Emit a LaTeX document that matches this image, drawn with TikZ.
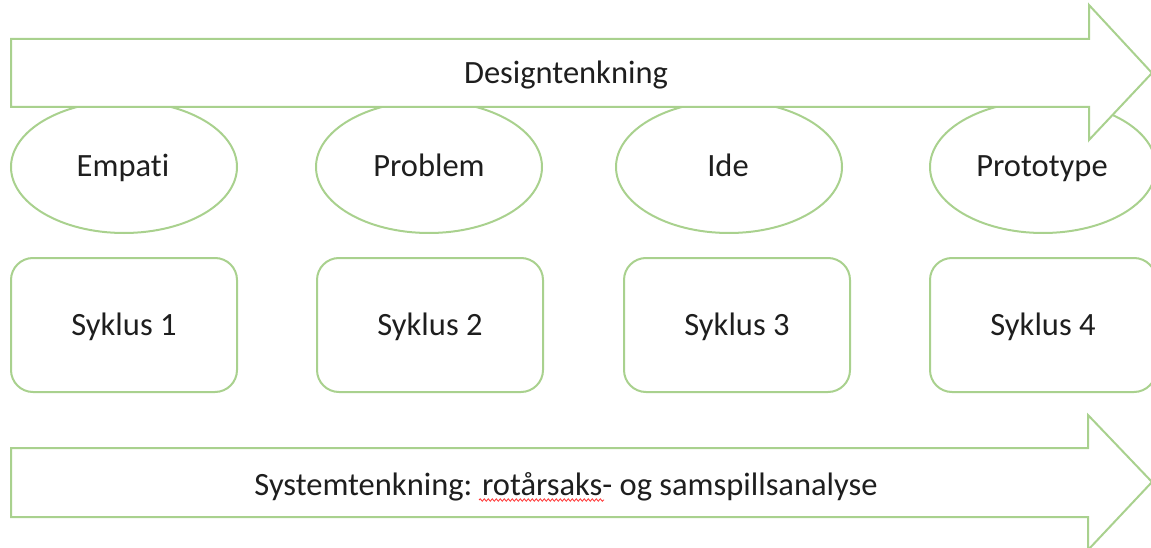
\documentclass[tikz,border=0pt]{standalone}
\usepackage{fontspec}
\setmainfont{Carlito}[RawFeature=-liga]
\usetikzlibrary{decorations.pathmorphing,shapes.geometric}
\definecolor{lgreen}{HTML}{A9D18E}
\definecolor{txt}{HTML}{1E1E1E}
\tikzset{
  shapeline/.style={draw=lgreen, line width=2pt},
  phase/.style={shapeline, ellipse, minimum width=226pt, minimum height=132pt, inner sep=0pt},
  cycle/.style={shapeline, rounded corners=22pt, minimum width=226pt, minimum height=134pt, inner sep=0pt},
  bigarrow/.style={shapeline, fill=white, line join=miter},
  lbl/.style={text=txt, font=\fontsize{32.5}{38}\selectfont, inner sep=0pt, anchor=base}
}
\begin{document}
\begin{tikzpicture}[x=1pt, y=-1pt]
\useasboundingbox (0,0) rectangle (1151,548);

% cycle boxes
\node[cycle] (s1) at (124,325) {};
\node[cycle] (s2) at (430,325) {};
\node[cycle] (s3) at (737,325) {};
\node[cycle] (s4) at (1043,325) {};
\node[lbl] (s1t) at (124,335) {Syklus 1};
\node[lbl] (s2t) at (430,335) {Syklus 2};
\node[lbl] (s3t) at (737,335) {Syklus 3};
\node[lbl] (s4t) at (1043,335) {Syklus 4};

% design-thinking phases
\node[phase] (e1) at (124,167) {};
\node[phase] (e2) at (429,167) {};
\node[phase] (e3) at (729,167) {};
\node[phase] (e4) at (1043,167) {};
\node[lbl] (e1t) at (123,177) {Empati};
\node[lbl] (e2t) at (429,177) {Problem};
\node[lbl] (e3t) at (728,177) {Ide};
\node[lbl] (e4t) at (1042,177) {Prototype};

% block arrows
\draw[bigarrow] (11,39) -- (1089,39) -- (1089,5) -- (1152,73) -- (1089,140) -- (1089,107) -- (11,107) -- cycle;
\draw[bigarrow] (11,448) -- (1088,448) -- (1088,415) -- (1152,482) -- (1088,550) -- (1088,517) -- (11,517) -- cycle;
\node[lbl] (top) at (566,84) {Designtenkning};
\node[lbl] (bot) at (566,495) {Systemtenkning: rotårsaks- og samspillsanalyse};

% spelling underline
\coordinate (sq1) at (479,500);
\coordinate (sq2) at (604,500);
\draw[red!80!white, line width=0.8pt, decorate, decoration={snake, amplitude=1.2pt, segment length=4pt}] (sq1) -- (sq2);
\end{tikzpicture}
\end{document}
